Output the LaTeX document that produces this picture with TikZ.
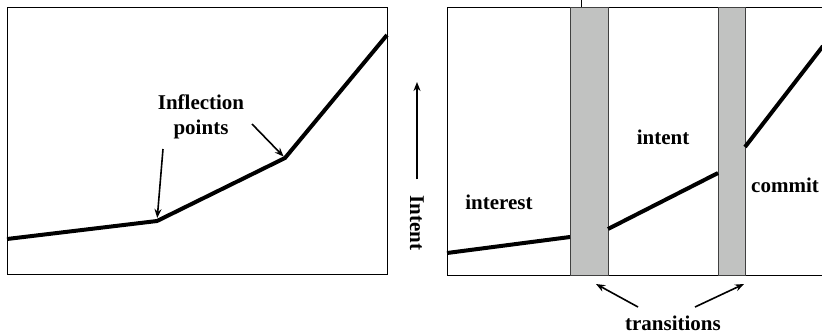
\documentclass[tikz,border=0pt]{standalone}
\usepackage{fontspec}
\setmainfont{Liberation Serif}
\usetikzlibrary{arrows.meta, positioning}
\definecolor{bandgray}{RGB}{193,194,193}

\begin{document}
\begin{tikzpicture}[x=1pt,y=-1pt,>={Stealth[length=9pt,width=7pt]},line width=1.6pt,
    lbl/.style={font=\bfseries\fontsize{21}{25}\selectfont},
    frame/.style={line width=0.8pt},
    curve/.style={line width=4pt},
    band/.style={fill=bandgray,draw=black!75,line width=0.8pt}]
  \useasboundingbox (0,0) rectangle (822,335);

  % left panel
  \draw[frame] (7,7) rectangle (387,274);
  \coordinate (a0) at (7,239);
  \coordinate (a1) at (157,221);
  \coordinate (a2) at (285,158);
  \coordinate (a3) at (387,35);
  \draw[curve] (a0) -- (a1) -- (a2) -- (a3);

  \node[lbl,align=center] (infl) at (201,117) {Inflection\\points};
  \coordinate (i1) at (163,149);
  \coordinate (i2) at (252,124);
  \draw[->,shorten >=3pt] (i1) -- (a1);
  \draw[->,shorten >=2pt] (i2) -- (a2);

  % axis label
  \node[lbl,rotate=-90] (axis) at (417,223) {Intent};
  \coordinate (up) at (417,82);
  \draw[->] ([yshift=12pt]axis.west) -- (up);

  % right panel
  \draw[frame] (823,7) -- (447,7) -- (447,275) -- (823,275);
  \draw[frame] (581,0) -- (581,7);
  \draw[band] (570,7) rectangle (608,275);
  \draw[band] (718,7) rectangle (745,275);
  \coordinate (b0) at (447,253);
  \coordinate (b1) at (570,237);
  \coordinate (b2) at (608,229);
  \coordinate (b3) at (718,173);
  \coordinate (b4) at (745,147);
  \coordinate (b5) at (823,46);
  \draw[curve] (b0) -- (b1);
  \draw[curve] (b2) -- (b3);
  \draw[curve] (b4) -- (b5);

  \node[lbl] (interest) at (499,202) {interest};
  \node[lbl] (intent) at (663,137) {intent};
  \node[lbl] (commit) at (785,185) {commit};
  \node[lbl] (trans) at (673,323) {transitions};
  \coordinate (t1) at (638,307);
  \coordinate (t2) at (695,307);
  \coordinate (g1) at (596,284);
  \coordinate (g2) at (744,284);
  \draw[->] (t1) -- (g1);
  \draw[->] (t2) -- (g2);
\end{tikzpicture}
\end{document}
